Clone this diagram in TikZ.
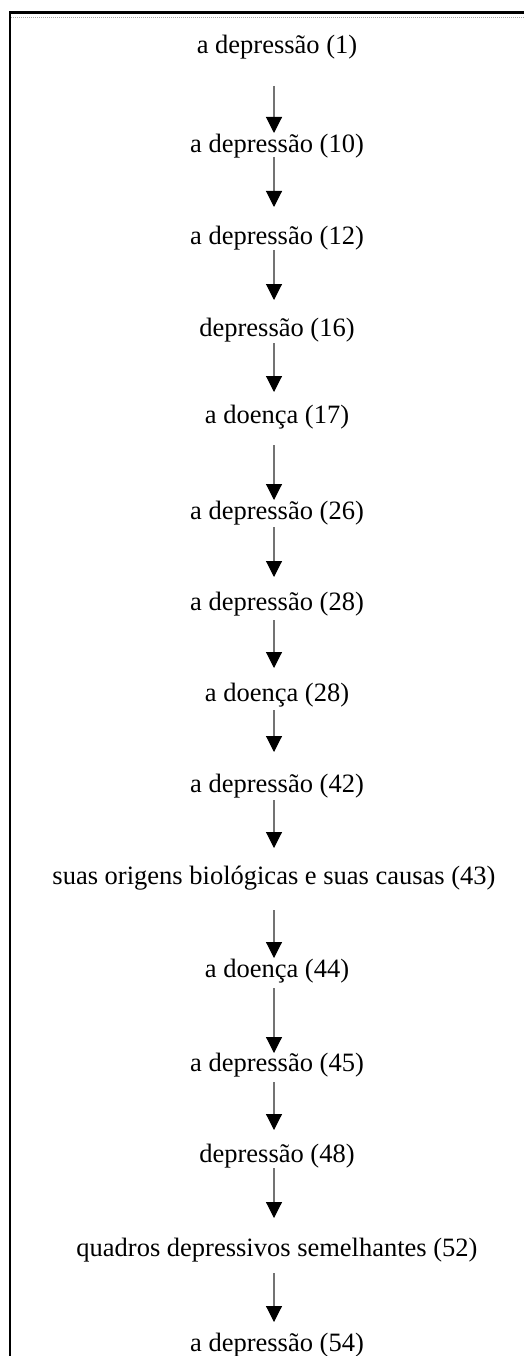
\documentclass[tikz,border=0pt]{standalone}
\usepackage{fontspec}
\setmainfont{Liberation Serif}
\usetikzlibrary{arrows.meta}
\begin{document}
\begin{tikzpicture}[x=1pt,y=-1pt,
  lbl/.style={inner sep=0pt, outer sep=0pt, font=\fontsize{26.5}{30}\selectfont,
              text height=19pt, text depth=6pt},
  link/.style={draw=black!55, line width=1.1pt,
               -{Triangle[length=16pt,width=16pt,color=black]}},
  frame/.style={line width=2.6pt, black},
  rule/.style={line width=1.6pt, black!35, dash pattern=on 1pt off 1pt}]
\useasboundingbox (0,0) rectangle (524,1356);

% page frame: left edge, top edge and the dotted rule under it
\draw[frame] (9.8,1356) -- (9.8,12.7) -- (524,12.7);
\draw[rule] (11,17.5) -- (524,17.5);

% axis of the chain of arrows
\coordinate (ax) at (274,0);

% chain of terms
\node[lbl] (t1)  at (277,47)   {a depressão (1)};
\node[lbl] (t2)  at (277,146)  {a depressão (10)};
\node[lbl] (t3)  at (277,238)  {a depressão (12)};
\node[lbl] (t4)  at (277,330)  {depressão (16)};
\node[lbl] (t5)  at (277,417)  {a doença (17)};
\node[lbl] (t6)  at (277,513)  {a depressão (26)};
\node[lbl] (t7)  at (277,604)  {a depressão (28)};
\node[lbl] (t8)  at (277,695)  {a doença (28)};
\node[lbl] (t9)  at (277,786)  {a depressão (42)};
\node[lbl] (t10) at (274,878)  {suas origens biológicas e suas causas (43)};
\node[lbl] (t11) at (277,971)  {a doença (44)};
\node[lbl] (t12) at (277,1065) {a depressão (45)};
\node[lbl] (t13) at (277,1156) {depressão (48)};
\node[lbl] (t14) at (277,1250) {quadros depressivos semelhantes (52)};
\node[lbl] (t15) at (277,1345) {a depressão (54)};

% arrows between consecutive terms
\foreach \a/\b/\p/\q in {
  t1/t2/26.5/0.5, t2/t3/-1.5/18.5, t3/t4/-0.5/17.5, t4/t5/0.5/12.5,
  t5/t6/15.5/0.5, t6/t7/1.5/14.5, t7/t8/3.5/14.5, t8/t9/2.5/21.5,
  t9/t10/1.5/17.5, t10/t11/19.5/0.5, t11/t12/4.5/-0.5, t12/t13/4.5/13.5,
  t13/t14/-0.5/19.5, t14/t15/10.5/10.5}
  \draw[link, shorten <=\p pt, shorten >=\q pt] (\a.south -| ax) -- (\b.north -| ax);
\end{tikzpicture}
\end{document}
